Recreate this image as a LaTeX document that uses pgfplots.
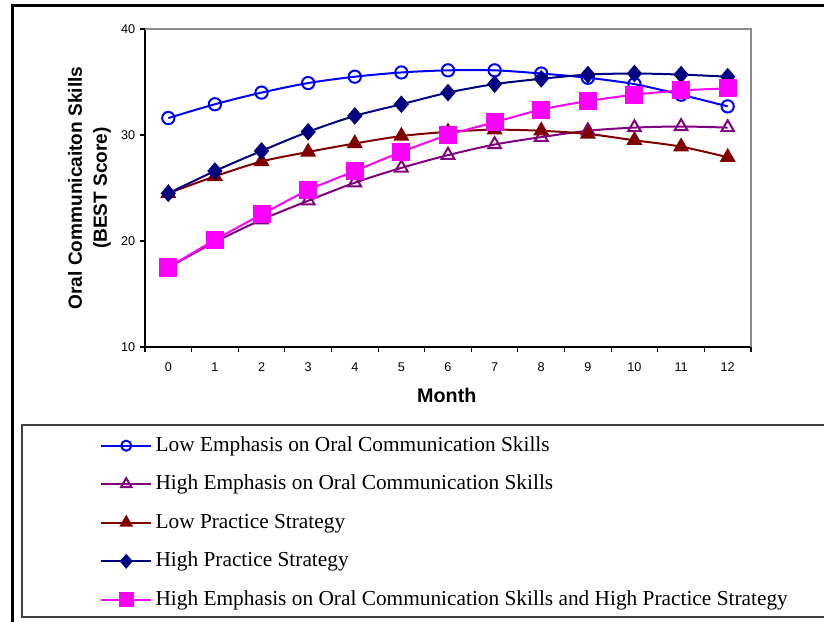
\documentclass[border=0pt]{standalone}
\usepackage{pgfplots}
\pgfplotsset{compat=1.18}
\usepackage{fontspec}
\setmainfont{Liberation Serif}
\setsansfont{Liberation Sans}
\definecolor{cPurple}{RGB}{128,0,128}
\definecolor{cDarkRed}{RGB}{128,0,0}
\definecolor{cNavy}{RGB}{0,0,128}
\definecolor{cMagenta}{RGB}{255,0,255}
\begin{document}
\begin{tikzpicture}[x=0.75pt,y=0.75pt]
\useasboundingbox (0,0) rectangle (824,621);
\begin{scope}
\clip (0,0) rectangle (824,621);
\draw[line width=2.2pt] (12.5,615.5) rectangle (900,-50);
\draw[line width=1pt, black!75] (22,196) rectangle (900,4);
\end{scope}
\begin{axis}[
  at={(108.75pt,205.5pt)}, anchor=south west, scale only axis,
  width=454.5pt, height=238.5pt,
  xmin=-0.5, xmax=12.5, ymin=10, ymax=40,
  axis x line*=bottom, axis y line*=left,
  axis line style={line width=1.4pt, -},
  xtick={0,...,12}, major x tick style={draw=none},
  minor xtick={-0.5,0.5,...,12.5},
  ytick={10,20,30,40},
  tick align=outside, major tick length=3.75pt, minor tick length=3.75pt,
  tick style={line width=0.8pt, black},
  /pgf/number format/assume math mode=true,
  tick label style={font=\sffamily\fontsize{9.5}{11}\selectfont},
  xticklabel style={yshift=-4.5pt},
  xlabel={Month},
  xlabel style={font=\sffamily\bfseries\fontsize{14.8}{16}\selectfont, at={(axis description cs:0.498,-0.151)}, anchor=center},
  ylabel={Oral Communicaiton Skills\\(BEST Score)},
  ylabel style={font=\sffamily\bfseries\fontsize{14.3}{18.75}\selectfont, align=center, at={(axis description cs:-0.0916,0.5)}, anchor=center, rotate=0},
  legend style={draw=none, fill=none, at={(axis description cs:-0.0743,-0.2654)}, anchor=north west,
    font=\rmfamily\fontsize{16}{18}\selectfont, inner sep=0pt, row sep=7.9pt,
    nodes={text height=12pt, text depth=4pt, inner sep=2.5pt}},
  legend cell align=left,
  legend image code/.code={\draw[mark repeat=2,mark phase=2,#1,every mark/.append style={scale=0.82}] plot coordinates {(0pt,0pt) (18.75pt,0pt) (37.5pt,0pt)};},
  clip=false,
]
\draw[line width=1.4pt, black!45] (rel axis cs:0,1) -- (rel axis cs:1,1) -- (rel axis cs:1,0);
\addplot[color=blue, line width=1.5pt, smooth, mark=o, mark size=4.6pt, mark options={line width=1.5pt}] coordinates {
(0,31.6) (1,32.9) (2,34.0) (3,34.9) (4,35.5) (5,35.9) (6,36.1) (7,36.1) (8,35.8) (9,35.4) (10,34.8) (11,33.8) (12,32.7)};
\addlegendentry{Low Emphasis on Oral Communication Skills}
\addplot[color=cPurple, line width=1.5pt, smooth, mark=triangle, mark size=5.5pt, mark options={line width=1.5pt}] coordinates {
(0,17.5) (1,19.9) (2,22.0) (3,23.8) (4,25.5) (5,26.9) (6,28.1) (7,29.1) (8,29.8) (9,30.4) (10,30.7) (11,30.8) (12,30.7)};
\addlegendentry{High Emphasis on Oral Communication Skills}
\addplot[color=cDarkRed, line width=1.5pt, smooth, mark=triangle*, mark size=5.5pt] coordinates {
(0,24.5) (1,26.1) (2,27.5) (3,28.4) (4,29.2) (5,29.9) (6,30.3) (7,30.5) (8,30.4) (9,30.1) (10,29.5) (11,28.9) (12,27.9)};
\addlegendentry{Low Practice Strategy}
\addplot[color=cNavy, line width=1.5pt, smooth, mark=diamond*, mark size=5.5pt, mark options={xscale=1.15}] coordinates {
(0,24.5) (1,26.6) (2,28.5) (3,30.3) (4,31.8) (5,32.9) (6,34.0) (7,34.8) (8,35.3) (9,35.7) (10,35.8) (11,35.7) (12,35.5)};
\addlegendentry{High Practice Strategy}
\addplot[color=cMagenta, line width=1.5pt, smooth, mark=square*, mark size=6pt] coordinates {
(0,17.5) (1,20.1) (2,22.5) (3,24.8) (4,26.6) (5,28.4) (6,30.0) (7,31.2) (8,32.4) (9,33.2) (10,33.8) (11,34.2) (12,34.4)};
\addlegendentry{High Emphasis on Oral Communication Skills and High Practice Strategy}
\end{axis}
\end{tikzpicture}
\end{document}
